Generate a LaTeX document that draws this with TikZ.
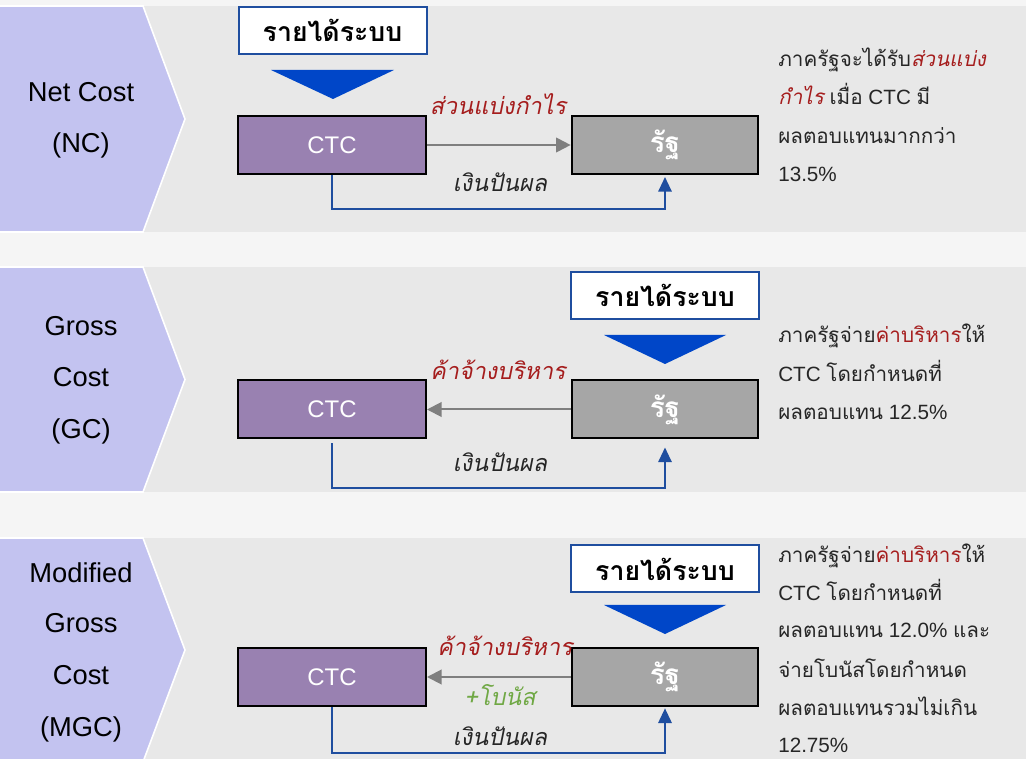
\documentclass[tikz,border=0pt]{standalone}
\usepackage{fontspec}
\setmainfont{Liberation Sans}
\newfontfamily\thai[Script=Thai]{Loma}
\newfontfamily\thaiit[Script=Thai,FakeSlant=0.2]{Loma}
\usetikzlibrary{arrows.meta}
\definecolor{bgc}{HTML}{F5F5F5}
\definecolor{bandc}{HTML}{E8E8E8}
\definecolor{chevc}{HTML}{C3C3F0}
\definecolor{ctcc}{HTML}{9981B1}
\definecolor{ratc}{HTML}{A6A6A6}
\definecolor{boxblue}{HTML}{1F4E9F}
\definecolor{trib}{HTML}{0046C8}
\definecolor{redt}{HTML}{A51D1D}
\definecolor{greent}{HTML}{70A845}
\definecolor{darkt}{HTML}{262626}
\definecolor{arrg}{HTML}{7F7F7F}
\definecolor{arrb}{HTML}{1F4E9F}
\tikzset{
  chev/.style={fill=chevc,draw=white,line width=1.2pt},
  chevtxt/.style={anchor=base,inner sep=0pt,font=\fontsize{20.5}{24}\selectfont,text=black},
  ctcbox/.style={draw=black,line width=1.5pt,fill=ctcc,minimum width=141pt,minimum height=43.5pt,text=white,font=\fontsize{18}{20}\selectfont,inner sep=0pt},
  ratbox/.style={draw=black,line width=1.5pt,fill=ratc,minimum width=140pt,minimum height=43.5pt,text=white,font=\thai\bfseries\fontsize{21}{22}\selectfont,inner sep=0pt},
  revbox/.style={draw=boxblue,line width=1.5pt,fill=white,minimum width=141pt,minimum height=35.25pt,text=black,font=\thai\bfseries\fontsize{20}{22}\selectfont,inner sep=0pt},
  tri/.style={fill=trib},
  grayarr/.style={draw=arrg,line width=1.5pt,-{Triangle[length=11pt,width=11pt]}},
  bluearr/.style={draw=arrb,line width=1.5pt,-{Triangle[length=11pt,width=10pt]}},
  lbl/.style={anchor=base,inner sep=0pt,font=\thaiit\fontsize{17.5}{20}\selectfont},
  rtxt/.style={anchor=base west,inner sep=0pt,text=darkt,font=\fontsize{15.5}{18}\selectfont},
}
\newcommand{\thw}[1]{{\thai #1}}
\newcommand{\thred}[1]{{\thai\color{redt}#1}}
\newcommand{\thredi}[1]{{\thaiit\color{redt}#1}}
\begin{document}
\begin{tikzpicture}[x=0.75pt,y=-0.75pt]
\fill[bgc] (0,0) rectangle (1026,759);
\useasboundingbox (0,0) rectangle (1026,759);
% bands
\fill[bandc] (0,6) rectangle (1026,232);
\fill[bandc] (0,267) rectangle (1026,492);
\fill[bandc] (0,538) rectangle (1026,759);
% chevrons
\path[chev] (-3,6) -- (143,6) -- (185,119) -- (143,232) -- (-3,232) -- cycle;
\path[chev] (-3,267) -- (143,267) -- (185,379.5) -- (143,492) -- (-3,492) -- cycle;
\path[chev] (-3,538) -- (143,538) -- (185,650) -- (143,762) -- (-3,762) -- cycle;
% chevron text
\node[chevtxt] (t1a) at (81,102) {Net Cost};
\node[chevtxt] (t1b) at (81,153) {(NC)};
\node[chevtxt] (t2a) at (81,336) {Gross};
\node[chevtxt] (t2b) at (81,387) {Cost};
\node[chevtxt] (t2c) at (81,439) {(GC)};
\node[chevtxt] (t3a) at (81,582) {Modified};
\node[chevtxt] (t3b) at (81,633) {Gross};
\node[chevtxt] (t3c) at (81,684) {Cost};
\node[chevtxt] (t3d) at (81,736) {(MGC)};

% ===== Band 1 =====
\node[revbox] (rev1) at (332.5,30.5) {รายได้ระบบ};
\fill[tri] (271,70) -- (394,70) -- (333,99) -- cycle;
\node[ctcbox] (ctc1) at (332,145) {CTC};
\node[ratbox] (rat1) at (665,145) {รัฐ};
\draw[grayarr] (ctc1.east) -- (rat1.west);
\draw[bluearr] (ctc1.south) -- ++(0,34) -| ([yshift=-1.5pt]rat1.south);
\node[lbl,text=redt] (l1a) at (498,115) {ส่วนแบ่งกำไร};
\node[lbl,text=darkt] (l1b) at (500,192) {เงินปันผล};
\node[rtxt] (r1a) at (778,67) {\thw{ภาครัฐจะได้รับ}\thredi{ส่วนแบ่ง}};
\node[rtxt] (r1b) at (778,105) {\thredi{กำไร} \thw{เมื่อ} CTC \thw{มี}};
\node[rtxt] (r1c) at (778,144) {\thw{ผลตอบแทนมากกว่า}};
\node[rtxt] (r1d) at (778,182) {13.5\%};

% ===== Band 2 =====
\node[revbox] (rev2) at (665,295.5) {รายได้ระบบ};
\fill[tri] (604,335) -- (726,335) -- (665,364) -- cycle;
\node[ctcbox] (ctc2) at (332,409.5) {CTC};
\node[ratbox] (rat2) at (665,409.5) {รัฐ};
\draw[grayarr] (rat2.west) -- (ctc2.east);
\draw[bluearr,shorten <=3pt] (ctc2.south) -- ++(0,49) -| ([yshift=-6pt]rat2.south);
\node[lbl,text=redt] (l2a) at (498,380) {ค้าจ้างบริหาร};
\node[lbl,text=darkt] (l2b) at (500,472) {เงินปันผล};
\node[rtxt] (r2a) at (778,343) {\thw{ภาครัฐจ่าย}\thred{ค่าบริหาร}\thw{ให้}};
\node[rtxt] (r2b) at (778,382) {CTC \thw{โดยกำหนดที่}};
\node[rtxt] (r2c) at (778,420) {\thw{ผลตอบแทน} 12.5\%};

% ===== Band 3 =====
\node[revbox] (rev3) at (665,569) {รายได้ระบบ};
\fill[tri] (604,605) -- (726,605) -- (665,634) -- cycle;
\node[ctcbox] (ctc3) at (332,677) {CTC};
\node[ratbox] (rat3) at (665,677) {รัฐ};
\draw[grayarr] (rat3.west) -- (ctc3.east);
\draw[bluearr] (ctc3.south) -- ++(0,46) -| ([yshift=-1pt]rat3.south);
\node[lbl,text=redt] (l3a) at (505,655) {ค้าจ้างบริหาร};
\node[lbl,text=greent] (l3b) at (500,705) {+โบนัส};
\node[lbl,text=darkt] (l3c) at (500,745) {เงินปันผล};
\node[rtxt] (r3a) at (778,562) {\thw{ภาครัฐจ่าย}\thred{ค่าบริหาร}\thw{ให้}};
\node[rtxt] (r3b) at (778,600) {CTC \thw{โดยกำหนดที่}};
\node[rtxt] (r3c) at (778,638) {\thw{ผลตอบแทน} 12.0\% \thw{และ}};
\node[rtxt] (r3d) at (778,677) {\thw{จ่ายโบนัสโดยกำหนด}};
\node[rtxt] (r3e) at (778,715) {\thw{ผลตอบแทนรวมไม่เกิน}};
\node[rtxt] (r3f) at (778,752) {12.75\%};
\end{tikzpicture}
\end{document}
